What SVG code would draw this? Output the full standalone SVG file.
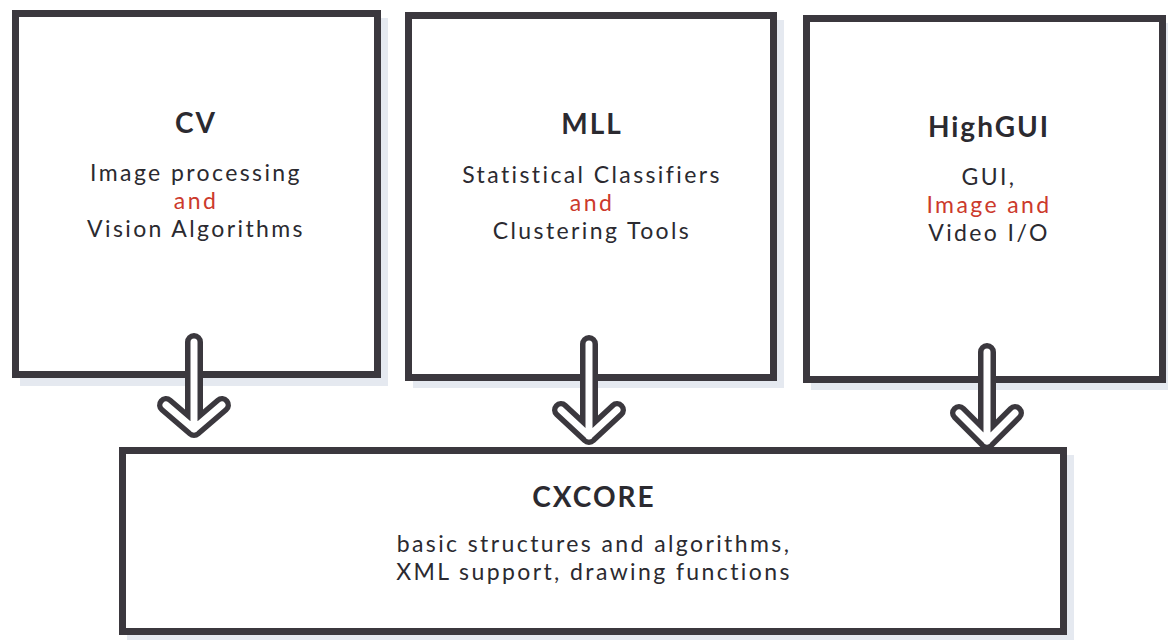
<svg xmlns="http://www.w3.org/2000/svg" width="1168" height="640" viewBox="0 0 1168 640">
  <style>
    .box { fill: #ffffff; stroke: #3b383e; stroke-width: 7; }
    .shadow { fill: #dfe4ec; opacity: 0.8; }
    .title { font-family: Lato, "Open Sans", sans-serif; font-weight: bold; font-size: 28px; fill: #2b2a30; text-anchor: middle; letter-spacing: 2px; }
    .body { font-family: Lato, "Open Sans", sans-serif; font-size: 23px; fill: #2b2a30; text-anchor: middle; letter-spacing: 2.4px; }
    .red { fill: #cc3a2c; }
    .arrow-rim { fill: none; stroke: #3b383e; stroke-width: 18; stroke-linecap: round; stroke-linejoin: round; }
    .arrow-core { fill: none; stroke: #ffffff; stroke-width: 7; stroke-linecap: round; stroke-linejoin: round; }
  </style>
  <rect width="1168" height="640" fill="#ffffff"/>

  <g id="cv">
    <rect class="shadow" x="20" y="18" width="368" height="368"/>
    <rect class="box" x="15.5" y="13.5" width="362" height="361"/>
    <text class="title" x="196" y="133">CV</text>
    <text class="body" x="196" y="181">Image processing</text>
    <text class="body red" x="196" y="209">and</text>
    <text class="body" x="196" y="237">Vision Algorithms</text>
  </g>

  <g id="mll">
    <rect class="shadow" x="413" y="20" width="371" height="368"/>
    <rect class="box" x="408.5" y="15.5" width="365" height="362"/>
    <text class="title" x="592" y="134">MLL</text>
    <text class="body" x="592" y="183">Statistical Classifiers</text>
    <text class="body red" x="592" y="211">and</text>
    <text class="body" x="592" y="239">Clustering Tools</text>
  </g>

  <g id="highgui">
    <rect class="shadow" x="811" y="23" width="357" height="367"/>
    <rect class="box" x="806.5" y="18.5" width="356" height="361"/>
    <text class="title" x="989" y="137">HighGUI</text>
    <text class="body" x="989" y="185">GUI,</text>
    <text class="body red" x="989" y="213">Image and</text>
    <text class="body" x="989" y="241">Video I/O</text>
  </g>

  <g id="cxcore">
    <rect class="shadow" x="127" y="455" width="947" height="187"/>
    <rect class="box" x="122.5" y="450.5" width="941" height="181"/>
    <text class="title" x="594" y="507">CXCORE</text>
    <text class="body" x="594" y="552">basic structures and algorithms,</text>
    <text class="body" x="594" y="580">XML support, drawing functions</text>
  </g>

  <!-- hollow down-arrows: dark rim stroke with a white core on the same path -->
  <g id="connectors">
    <path class="arrow-rim" d="M194,342 V429 M166,405 L194,429 L222,405"/>
    <path class="arrow-core" d="M194,342 V429 M166,405 L194,429 L222,405"/>
    <path class="arrow-rim" d="M589,344 V436 M561,410 L589,436 L617,410"/>
    <path class="arrow-core" d="M589,344 V436 M561,410 L589,436 L617,410"/>
    <path class="arrow-rim" d="M987,352 V441 M959,413 L987,441 L1015,413"/>
    <path class="arrow-core" d="M987,352 V441 M959,413 L987,441 L1015,413"/>
  </g>
</svg>
